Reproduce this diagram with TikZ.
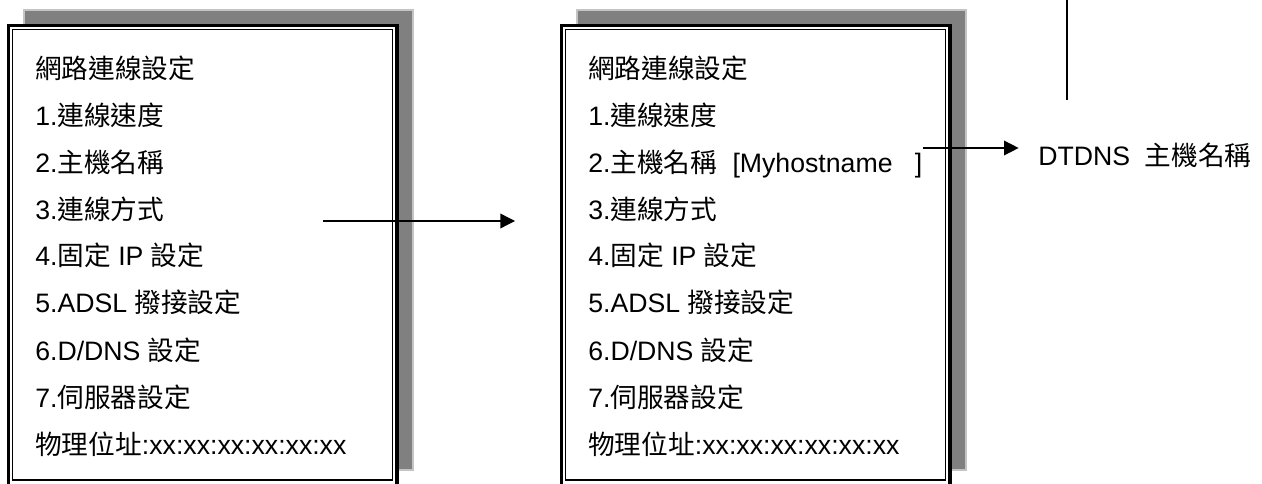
\documentclass[tikz,border=0pt]{standalone}
\usepackage{fontspec}
\setmainfont{Liberation Sans}
\newfontfamily\cjk{Noto Sans CJK TC}
\newcommand\zh[1]{{\cjk #1}}
\usetikzlibrary{arrows.meta,positioning}

\begin{document}
\begin{tikzpicture}[x=0.75pt, y=-0.75pt, font=\fontsize{20}{24}\selectfont,
  menuline/.style={anchor=base west, inner sep=0pt},
  linkarrow/.style={line width=1pt, -{Triangle[length=11pt, width=11pt]}}]

\definecolor{shadowc}{HTML}{808080}
\definecolor{rimc}{HTML}{C4C4C4}

\useasboundingbox (0,0) rectangle (1262,484);
\clip (0,0) rectangle (1262,484);

% the two menu screens, the right one shifted by 553px
\foreach \b/\dx in {L/0, R/553} {
  \begin{scope}[shift={(\dx,0)}]
    \filldraw[fill=shadowc, draw=rimc, line width=1.2pt] (24,10) rectangle (413,470);
    \filldraw[fill=white, draw=black, line width=2.3pt] (8.5,25.5) rectangle (397,490);
    \draw[line width=0.8pt] (12.5,29.5) rectangle (392.5,480);

    \node[menuline] (\b0) at (35,79)  {\zh{網路連線設定}};
    \node[menuline] (\b1) at (35,126) {1.\zh{連線速度}};
    \node[menuline] (\b2) at (35,173) {2.\zh{主機名稱}};
    \node[menuline] (\b3) at (35,220) {3.\zh{連線方式}};
    \node[menuline] (\b4) at (35,266) {4.\zh{固定} IP \zh{設定}};
    \node[menuline] (\b5) at (35,313) {5.ADSL \zh{撥接設定}};
    \node[menuline] (\b6) at (35,360) {6.D/DNS \zh{設定}};
    \node[menuline] (\b7) at (35,407) {7.\zh{伺服器設定}};
    \node[menuline] (\b8) at (35,454) {\zh{物理位址}:xx:xx:xx:xx:xx:xx};
  \end{scope}
}

\node[menuline] (host) at (R2.base east) {\ \ [Myhostname\ \ \ ]};
\node[menuline] (dtdns) at (1038,166) {DTDNS\ \ \zh{主機名稱}};

\coordinate (tail1) at (323,221);
\coordinate (head1) at (515,221);
\coordinate (tail2) at (923,148);
\coordinate (vtop) at (1067,0);
\coordinate (vbot) at (1067,100);

\draw[linkarrow] (tail1) -- (head1);
\draw[linkarrow] (tail2) -- ([xshift=-14.5pt]dtdns.west |- tail2);
\draw[line width=1pt] (vtop) -- (vbot);

\end{tikzpicture}
\end{document}
